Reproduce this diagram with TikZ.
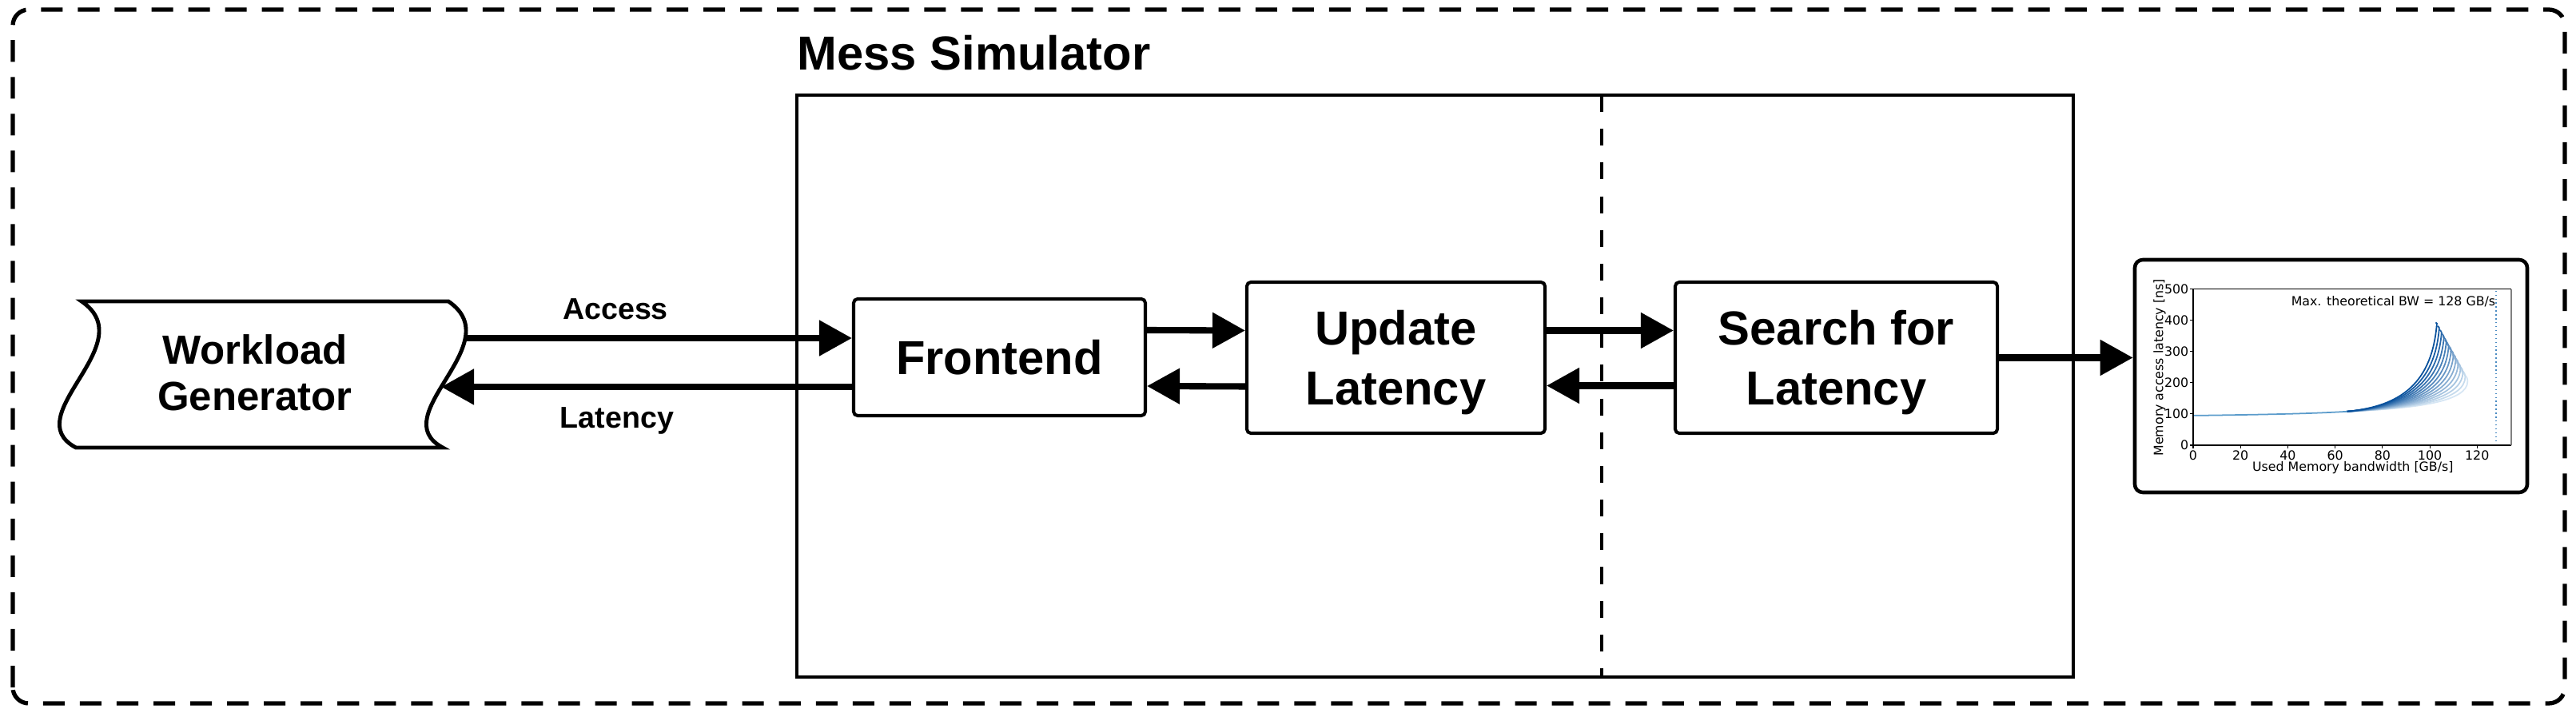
\documentclass[tikz,border=0pt]{standalone}
\usepackage{fontspec}
\setmainfont{Liberation Sans}
\newfontfamily\plotfont{DejaVu Sans}
\usetikzlibrary{arrows.meta}
\definecolor{bwdark}{HTML}{08519C}
\definecolor{bwlight}{HTML}{D6E6F4}
\definecolor{bwmid}{HTML}{5A9BCB}
\definecolor{bwline}{HTML}{4A8BC2}

\begin{document}
\begin{tikzpicture}[
    blocco/.style={draw, line width=1.15pt, rounded corners=0.05cm, fill=white, align=center, inner sep=0pt, text depth=0pt, font=\fontsize{17}{21.3}\selectfont\bfseries},
    freccia/.style={line width=2.3pt, -{Triangle[length=4.1mm, width=4.3mm]}},
    etich/.style={inner sep=0pt, font=\fontsize{10.7}{12}\selectfont\bfseries},
    tick/.style={inner sep=0.6pt, font=\plotfont\fontsize{4.5}{5}\selectfont},
    curva/.style={line width=0.5pt}]
    \useasboundingbox (0,0) rectangle (32.23,8.92);
    \draw[line width=1.5pt, dash pattern=on 7.7pt off 5.4pt, rounded corners=0.2cm] (0.16,0.12) rectangle (32.09,8.80);

    % Riquadro del simulatore
    \node[anchor=base west, inner sep=0pt, font=\fontsize{17}{20}\selectfont\bfseries] (titolo) at (9.97,8.04) {Mess Simulator};
    \node[draw, line width=1.3pt, inner sep=0pt, minimum width=15.97cm, minimum height=7.28cm] (mess) at (17.955,4.09) {};
    \draw[line width=1.1pt, dash pattern=on 6pt off 6pt] (20.04,7.73) -- (20.04,0.45);

    % Generatore di carico con i lati ondulati
    \draw[line width=1.4pt, fill=white] (1.02,5.15) -- (5.61,5.15) .. controls (6.39,4.62) and (4.79,3.72) .. (5.54,3.32)
        -- (0.95,3.32) .. controls (0.20,3.72) and (1.80,4.62) .. (1.02,5.15) -- cycle;
    \node[align=center, inner sep=0pt, font=\fontsize{14.5}{16.5}\selectfont\bfseries] (wg) at (3.19,4.26) {Workload\\Generator};
    \coordinate (wgout) at (5.82,4.69);
    \coordinate (wgin) at (5.52,4.08);

    \node[blocco, minimum width=3.65cm, minimum height=1.46cm] (front) at (12.505,4.45) {Frontend};
    \node[blocco, minimum width=3.73cm, minimum height=1.89cm] (update) at (17.465,4.445) {Update\\Latency};
    \node[blocco, minimum width=4.03cm, minimum height=1.89cm] (search) at (22.975,4.445) {Search for\\Latency};
    \node[draw, line width=1.3pt, rounded corners=0.1cm, inner sep=0pt, minimum width=4.91cm, minimum height=2.91cm] (plot) at (29.165,4.215) {};

    \draw[freccia] (wgout) -- (wgout -| front.west);
    \draw[freccia] (wgin -| front.west) -- (wgin);
    \node[etich, anchor=base] (acc) at (7.70,4.92) {Access};
    \node[etich, anchor=base] (lat) at (7.72,3.56) {Latency};
    \draw[freccia] ([yshift=3.4mm]front.east) -- ([yshift=3.4mm]update.west);
    \draw[freccia] ([yshift=-3.6mm]update.west) -- ([yshift=-3.6mm]front.east);
    \draw[freccia] ([yshift=3.4mm]update.east) -- ([yshift=3.4mm]search.west);
    \draw[freccia] ([yshift=-3.5mm]search.west) -- ([yshift=-3.5mm]update.east);
    \draw[freccia] (search.east) -- (search.east -| plot.west);

    % Grafico banda-latenza, in unita' dei dati
    \begin{scope}[shift={(27.44,3.35)}, x=0.0296cm, y=0.0039cm]
        \foreach \i in {13,...,0}{
            \pgfmathsetmacro{\t}{\i/13}
            \pgfmathsetmacro{\p}{100-100*\t}
            \pgfmathsetmacro{\ax}{88+7*\t}
            \pgfmathsetmacro{\ay}{125-7*\t}
            \pgfmathsetmacro{\bx}{101+15*\t}
            \pgfmathsetmacro{\by}{200-60*\t}
            \pgfmathsetmacro{\ex}{103+13*\t}
            \pgfmathsetmacro{\ey}{390-185*\t}
            \pgfmathsetmacro{\cx}{\ex-0.5-3*\t}
            \pgfmathsetmacro{\cy}{\ey+3+38*\t}
            \draw[curva, color=bwdark!\p!bwlight] (65,108) .. controls (\ax,\ay) and (\bx,\by) .. (\ex,\ey) to[out=90, in=-60] (\cx,\cy);
        }
        \draw[curva, color=bwmid] (0,95) .. controls (30,98) and (50,101) .. (65,108);
        \draw[bwline, densely dotted, line width=0.4pt] (128,0) -- (128,500);
        \draw[line width=0.35pt] (134.5,500) -- (0,500) -- (0,0) -- (134.5,0);
        \draw[gray, line width=0.7pt] (134.5,0) -- (134.5,500);
        \foreach \x in {0,20,...,120}{
            \draw[line width=0.3pt] (\x,0) -- ++(0,-0.04cm);
            \node[tick, anchor=north] (xt\x) at ([yshift=-0.04cm]\x,0) {\x};
        }
        \foreach \y in {0,100,...,500}{
            \draw[line width=0.3pt] (0,\y) -- ++(-0.04cm,0);
            \node[tick, anchor=east] (yt\y) at ([xshift=-0.03cm]0,\y) {\y};
        }
        \node[tick] (xlab) at (67.5,-72) {Used Memory bandwidth [GB/s]};
        \node[tick, rotate=90] (ylab) at (-14.2,249) {Memory access latency [ns]};
        \node[tick, anchor=east, inner sep=0pt] (maxbw) at (128,461) {Max. theoretical BW = 128 GB/s};
    \end{scope}
\end{tikzpicture}
\end{document}
